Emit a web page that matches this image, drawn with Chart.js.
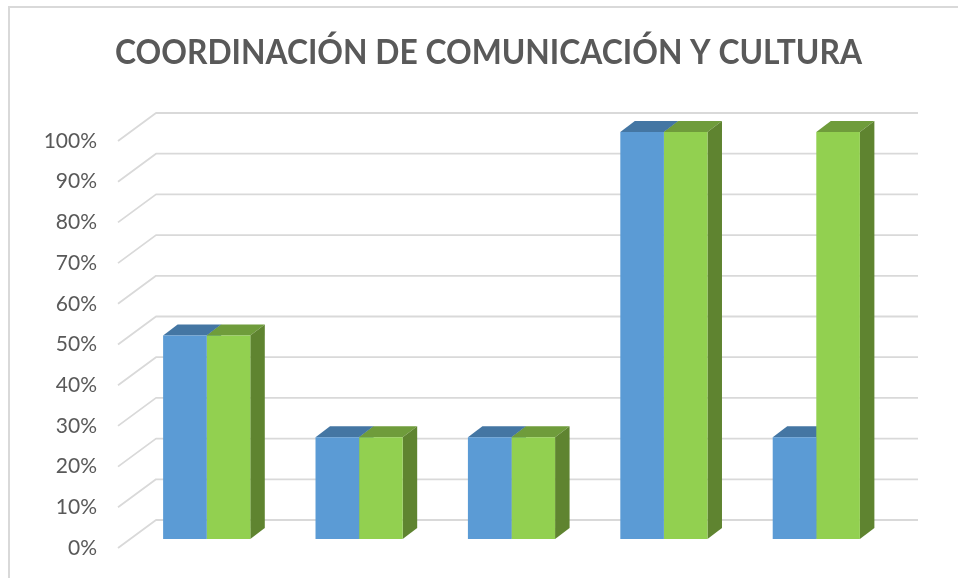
<!DOCTYPE html>
<html>
<head>
<meta charset="utf-8">
<style>
html,body{margin:0;padding:0;background:#fff;overflow:hidden}
#wrap{position:relative;width:958px;height:578px}
#frame{position:absolute;left:8px;top:6px;right:0;bottom:0;border-left:2px solid #D9D9D9;border-top:2px solid #D9D9D9;box-sizing:border-box}
canvas{position:absolute;left:0;top:0}
</style>
<script src="https://cdn.jsdelivr.net/npm/chart.js@4"></script>
</head>
<body>
<div id="wrap"><div id="frame"></div><canvas id="c" width="958" height="578"></canvas></div>
<script>
const titleText = 'COORDINACIÓN DE COMUNICACIÓN Y CULTURA';
const categories = ['1', '2', '3', '4', '5'];
const seriesA = [50, 25, 25, 100, 25];
const seriesB = [50, 25, 25, 100, 100];
const tickValues = [0, 10, 20, 30, 40, 50, 60, 70, 80, 90, 100];

const wallDepth = {dx: 38, dy: -28};
const barShift = {dx: 12.5, dy: -9};
const barDepth = {dx: 14.5, dy: -11};
const faces = [
  {front: '#5B9BD5', top: '#4476A3', side: '#3E6E9A'},
  {front: '#92D050', top: '#6F9C3B', side: '#5F8430'}
];

function poly(ctx, pts, color) {
  ctx.fillStyle = color;
  ctx.beginPath();
  pts.forEach((p, i) => i ? ctx.lineTo(p[0], p[1]) : ctx.moveTo(p[0], p[1]));
  ctx.closePath();
  ctx.fill();
}

const threeD = {
  id: 'threeD',
  afterLayout(chart) {
    chart.titleBlock.left = 115;
    chart.titleBlock.right = 862;
  },
  beforeDatasetsDraw(chart) {
    const ctx = chart.ctx, y = chart.scales.y, a = chart.chartArea;
    ctx.save();
    ctx.strokeStyle = '#D9D9D9';
    ctx.lineWidth = 1.8;
    ctx.lineJoin = 'round';
    tickValues.forEach(v => {
      const py = y.getPixelForValue(v);
      ctx.beginPath();
      ctx.moveTo(a.left, py);
      ctx.lineTo(a.left + wallDepth.dx, py + wallDepth.dy);
      ctx.lineTo(a.right + wallDepth.dx, py + wallDepth.dy);
      ctx.stroke();
    });
    ctx.restore();
    ctx.save();
    ctx.translate(barShift.dx, barShift.dy);
    chart.data.datasets.forEach((ds, i) => {
      chart.getDatasetMeta(i).data.forEach(b => {
        const l = b.x - b.width / 2, r = b.x + b.width / 2, t = b.y, bt = b.base;
        const dx = barDepth.dx, dy = barDepth.dy;
        poly(ctx, [[l, t], [r, t], [r + dx, t + dy], [l + dx, t + dy]], faces[i].top);
        poly(ctx, [[r, t], [r + dx, t + dy], [r + dx, bt + dy], [r, bt]], faces[i].side);
      });
    });
  },
  afterDatasetsDraw(chart) {
    chart.ctx.restore();
  }
};

new Chart(document.getElementById('c'), {
  type: 'bar',
  data: {
    labels: categories,
    datasets: [
      {label: 'Serie 1', data: seriesA, backgroundColor: faces[0].front, borderWidth: 0, barPercentage: 1, categoryPercentage: 0.572},
      {label: 'Serie 2', data: seriesB, backgroundColor: faces[1].front, borderWidth: 0, barPercentage: 1, categoryPercentage: 0.572}
    ]
  },
  options: {
    responsive: false,
    animation: false,
    events: [],
    layout: {padding: {left: 30, right: 78, top: 0, bottom: 30}},
    plugins: {
      legend: {display: false},
      tooltip: {enabled: false},
      title: {
        display: true,
        text: titleText,
        color: '#595959',
        font: {family: 'Lato', weight: 'bold', size: 35},
        padding: {top: 32, bottom: 67}
      }
    },
    scales: {
      x: {display: false},
      y: {
        min: 0,
        max: 100,
        afterFit(s) { s.width = 88; s.paddingBottom = 0; s.paddingTop = 0; },
        border: {display: false},
        grid: {display: false, drawTicks: false},
        ticks: {
          stepSize: 10,
          autoSkip: false,
          padding: 21,
          color: '#595959',
          font: {family: 'Lato', size: 21},
          callback: v => v + '%'
        }
      }
    }
  },
  plugins: [threeD]
});
</script>
</body>
</html>
